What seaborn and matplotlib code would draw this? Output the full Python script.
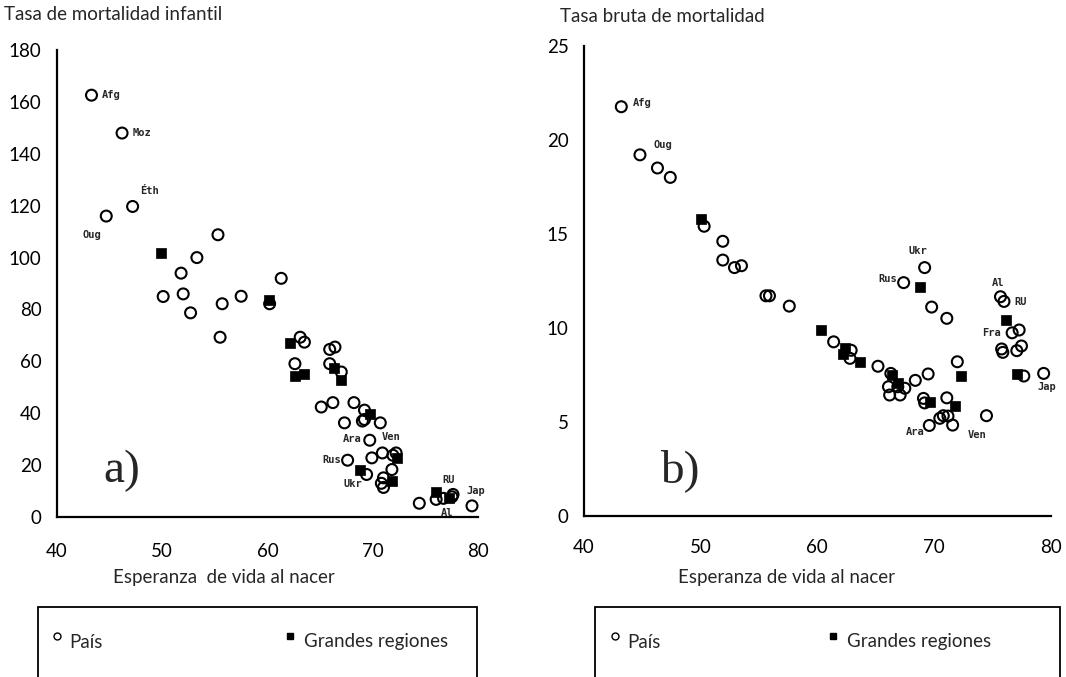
import matplotlib
matplotlib.use("Agg")
import matplotlib.pyplot as plt
import seaborn as sns
from matplotlib.lines import Line2D
from matplotlib.patches import Rectangle

sns.set_theme(style="white")
plt.rcParams["font.family"] = ["Lato", "DejaVu Sans"]

# ---- panel a) : infant mortality vs life expectancy ----
a_pais_x = [43.3, 46.2, 47.2, 44.7, 55.3, 53.3, 51.8, 50.1, 52.0, 52.7,
            55.7, 57.5, 55.5, 61.3, 60.2, 63.1, 63.5, 62.6, 65.9, 66.4,
            65.9, 67.0, 65.1, 66.2, 68.2, 69.2, 69.0, 69.2, 67.3, 70.7,
            69.7, 69.9, 70.9, 71.9, 72.2, 67.6, 69.4, 71.8, 71.0, 70.8,
            71.0, 74.4, 76.0, 76.7, 77.5, 77.6, 79.4]
a_pais_y = [162.6, 148.0, 119.7, 116.0, 108.8, 100.0, 94.0, 85.0, 86.0, 78.7,
            82.2, 85.1, 69.3, 92.0, 82.2, 69.3, 67.4, 59.1, 64.6, 65.5,
            59.1, 55.9, 42.4, 44.1, 44.1, 41.2, 37.0, 37.6, 36.3, 36.3,
            29.6, 22.8, 24.7, 23.8, 24.7, 21.9, 16.4, 18.3, 15.1, 13.0,
            11.4, 5.3, 6.8, 7.2, 7.8, 8.7, 4.3]
a_reg_x = [49.9, 60.1, 62.1, 62.6, 63.5, 66.3, 67.0, 69.7, 72.3, 68.8, 71.8, 76.0, 77.2]
a_reg_y = [101.8, 83.8, 67.2, 54.3, 55.3, 57.6, 53.0, 39.6, 22.8, 18.3, 13.8, 9.7, 7.2]
a_lab_text = ["Afg", "Moz", "Éth", "Oug", "Ara", "Ven", "Rus", "Ukr", "RU", "Al", "Jap"]
a_lab_x = [45.2, 48.1, 48.8, 43.3, 68.0, 71.7, 66.1, 68.1, 77.2, 77.0, 79.8]
a_lab_y = [162.6, 148.0, 125.5, 108.8, 29.9, 30.9, 21.9, 12.7, 14.2, 1.7, 10.0]

# ---- panel b) : crude death rate vs life expectancy ----
b_pais_x = [43.2, 44.8, 46.3, 47.4, 50.3, 51.9, 51.9, 52.9, 53.5, 55.6,
            55.9, 57.6, 61.4, 62.9, 62.8, 65.2, 66.3, 66.1, 66.9, 67.5,
            66.2, 67.1, 68.4, 69.5, 72.0, 69.1, 69.2, 71.1, 70.5, 70.8,
            71.2, 71.6, 69.6, 74.5, 69.2, 67.4, 69.8, 71.1, 75.7, 76.0,
            76.7, 77.3, 75.8, 75.9, 77.1, 77.5, 77.7, 79.4]
b_pais_y = [21.76, 19.2, 18.5, 18.0, 15.4, 14.6, 13.6, 13.2, 13.3, 11.7,
            11.7, 11.15, 9.25, 8.8, 8.37, 7.95, 7.57, 6.86, 6.86, 6.78,
            6.42, 6.42, 7.2, 7.54, 8.19, 6.24, 6.0, 6.27, 5.18, 5.32,
            5.3, 4.82, 4.8, 5.32, 13.2, 12.4, 11.1, 10.5, 11.65, 11.4,
            9.73, 9.88, 8.87, 8.69, 8.78, 9.03, 7.43, 7.57]
b_reg_x = [50.0, 60.3, 62.4, 62.2, 63.7, 66.4, 66.9, 68.8, 69.7, 71.8, 72.3, 76.2, 77.1]
b_reg_y = [15.8, 9.9, 8.9, 8.6, 8.2, 7.48, 7.04, 12.15, 6.03, 5.85, 7.43, 10.4, 7.54]
b_lab_text = ["Afg", "Oug", "Ukr", "Rus", "Al", "RU", "Fra", "Jap", "Ara", "Ven"]
b_lab_x = [45.0, 46.8, 68.6, 66.0, 75.5, 77.4, 74.9, 79.7, 68.4, 73.7]
b_lab_y = [21.97, 19.7, 14.1, 12.57, 12.36, 11.38, 9.73, 6.86, 4.47, 4.29]

x_ticks = [40, 50, 60, 70, 80]
a_y_ticks = [0, 20, 40, 60, 80, 100, 120, 140, 160, 180]
b_y_ticks = [0, 5, 10, 15, 20, 25]

fig = plt.figure(figsize=(10.66, 6.77), dpi=100)
ax_a = fig.add_axes([0.0532, 0.2363, 0.3955, 0.6898])
ax_b = fig.add_axes([0.5478, 0.2383, 0.4378, 0.694])


def draw_panel(ax, px, py, rx, ry, lt, lx, ly, yticks, tag, tag_pos, xpad):
    sns.scatterplot(x=px, y=py, ax=ax, marker="o", s=62, facecolor="none",
                    edgecolor="black", linewidth=1.5, clip_on=False, zorder=3)
    sns.scatterplot(x=rx, y=ry, ax=ax, marker="s", s=50, color="black",
                    edgecolor="black", linewidth=0.5, clip_on=False, zorder=4)
    for t, x, y in zip(lt, lx, ly):
        ax.text(x, y, t, ha="center", va="center", fontsize=7.5,
                family="DejaVu Sans Mono", fontweight="bold", zorder=5)
    ax.set_xlim(x_ticks[0], x_ticks[-1])
    ax.set_ylim(yticks[0], yticks[-1])
    ax.set_xticks(x_ticks)
    ax.set_yticks(yticks)
    sns.despine(ax=ax)
    for side in ("left", "bottom"):
        ax.spines[side].set_color("black")
        ax.spines[side].set_linewidth(1.6)
    ax.tick_params(axis="both", direction="inout", length=10, width=1.3,
                   colors="black", labelsize=13.5)
    ax.tick_params(axis="x", pad=xpad)
    ax.tick_params(axis="y", pad=6)
    ax.text(tag_pos[0], tag_pos[1], tag, transform=ax.transAxes,
            fontsize=34, family="Liberation Serif", ha="center", va="center")
    ax.set_xlabel("")
    ax.set_ylabel("")


draw_panel(ax_a, a_pais_x, a_pais_y, a_reg_x, a_reg_y,
           a_lab_text, a_lab_x, a_lab_y, a_y_ticks, "a)", (0.155, 0.10), 14)
draw_panel(ax_b, b_pais_x, b_pais_y, b_reg_x, b_reg_y,
           b_lab_text, b_lab_x, b_lab_y, b_y_ticks, "b)", (0.206, 0.097), 12)

fig.text(0.004, 0.978, "Tasa de mortalidad infantil", fontsize=13.5, va="center")
fig.text(0.525, 0.976, "Tasa bruta de mortalidad", fontsize=13.5, va="center")
fig.text(0.21, 1 - 578 / 677, "Esperanza  de vida al nacer", fontsize=13.5,
         ha="center", va="center")
fig.text(0.738, 1 - 578 / 677, "Esperanza de vida al nacer", fontsize=13.5,
         ha="center", va="center")

# legend boxes
for x0, x1, px_o, px_s in [(38, 477, 57, 290), (595, 1060, 615, 833)]:
    W, H = 1066, 677
    fig.add_artist(Rectangle((x0 / W, -0.05), (x1 - x0) / W, 0.05 + 1 - 607 / H,
                             transform=fig.transFigure, fill=False,
                             edgecolor="black", linewidth=1.3))
    fig.add_artist(Line2D([px_o / W], [1 - 636 / H], marker="o", markersize=5,
                          markerfacecolor="none", markeredgecolor="black",
                          markeredgewidth=1.0, transform=fig.transFigure))
    fig.text((px_o + 12) / W, 1 - 642 / H, "País", fontsize=13.5, va="center")
    fig.add_artist(Line2D([px_s / W], [1 - 636 / H], marker="s", markersize=5,
                          color="black", transform=fig.transFigure))
    fig.text((px_s + 14) / W, 1 - 642 / H, "Grandes regiones", fontsize=13.5,
             va="center")

fig.savefig("out.png", dpi=100)
